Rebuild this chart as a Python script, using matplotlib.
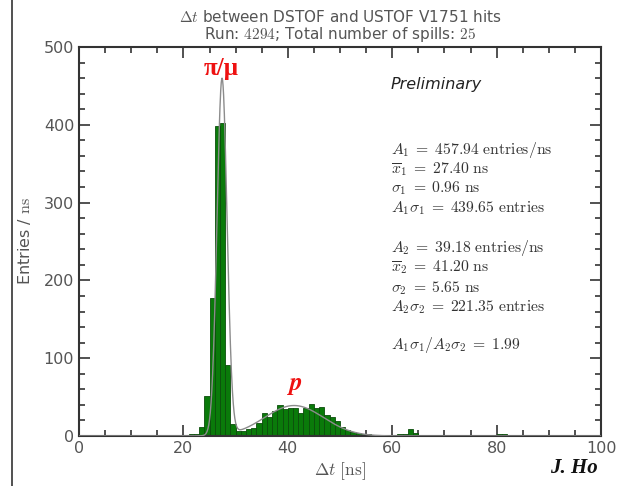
import numpy as np
import matplotlib
matplotlib.use("Agg")
import matplotlib.pyplot as plt
from matplotlib.ticker import MultipleLocator
from matplotlib.lines import Line2D

plt.rcParams['mathtext.fontset'] = 'cm'

# Histogram data (1 ns bins, left edges)
bin_left = [21, 22, 23, 24, 25, 26, 27, 28, 29, 30, 31, 32, 33, 34, 35, 36, 37, 38,
            39, 40, 41, 42, 43, 44, 45, 46, 47, 48, 49, 50, 51, 52, 53, 54, 55,
            60, 61, 62, 63, 64, 80, 81]
counts = [2, 2, 12, 52, 178, 398, 402, 91, 15, 7, 6, 9, 10, 17, 30, 25, 32, 40,
          35, 36, 36, 30, 36, 41, 36, 37, 27, 24, 19, 12, 8, 5, 4, 3, 2,
          1, 2, 3, 9, 4, 2, 2]
bin_width = 1.0

# Fit parameters shown in the chart
A1, mean1, sigma1 = 457.94, 27.40, 0.96
A2, mean2, sigma2 = 39.18, 41.20, 5.65

W, H = 617, 486
fig = plt.figure(figsize=(W / 100, H / 100), dpi=100)
ax = fig.add_axes([79 / W, 1 - 436 / H, (601 - 79) / W, (436 - 47) / H])

ax.bar(bin_left, counts, width=bin_width, align='edge', color='#0a7a0a',
       edgecolor='#0b4d0b', linewidth=0.6, zorder=2)

xf = np.linspace(0, 100, 2001)
yf = A1 * np.exp(-0.5 * ((xf - mean1) / sigma1) ** 2) + A2 * np.exp(-0.5 * ((xf - mean2) / sigma2) ** 2)
ax.plot(xf, yf, color='#8c8c8c', lw=1.0, zorder=3)

ax.set_xlim(0, 100)
ax.set_ylim(0, 500)
ax.xaxis.set_major_locator(MultipleLocator(20))
ax.xaxis.set_minor_locator(MultipleLocator(5))
ax.yaxis.set_major_locator(MultipleLocator(100))
ax.yaxis.set_minor_locator(MultipleLocator(20))
gray = '#555555'
ax.tick_params(which='both', direction='in', top=True, right=True, colors='#333333',
               labelcolor=gray, labelsize=11.5, width=1.2)
ax.tick_params(which='major', length=8)
ax.tick_params(which='minor', length=4)
for s in ax.spines.values():
    s.set_color('#333333')
    s.set_linewidth(1.5)

ax.set_xlabel(r'$\Delta t\ [\mathrm{ns}]$', fontsize=12.5, color=gray, labelpad=3)
ax.set_ylabel(r'Entries / $\mathrm{ns}$', fontsize=11.5, color=gray, labelpad=8)

fig.text(0.5 * (79 + 601) / W, 1 - 17 / H,
         r'$\Delta t$ between DSTOF and USTOF V1751 hits',
         ha='center', va='center', fontsize=11, color=gray)
fig.text(0.5 * (79 + 601) / W, 1 - 34 / H,
         r'Run: $4294$; Total number of spills: $25$',
         ha='center', va='center', fontsize=11, color=gray)

fig.text(391 / W, 1 - 85 / H, 'Preliminary', fontsize=11.5,
         style='italic', color='#222222', ha='left', va='center')

lines1 = [r'$A_1\;=\;457.94\ \mathrm{entries/ns}$',
          r'$\overline{x}_1\;=\;27.40\ \mathrm{ns}$',
          r'$\sigma_1\;=\;0.96\ \mathrm{ns}$',
          r'$A_1\sigma_1\;=\;439.65\ \mathrm{entries}$']
lines2 = [r'$A_2\;=\;39.18\ \mathrm{entries/ns}$',
          r'$\overline{x}_2\;=\;41.20\ \mathrm{ns}$',
          r'$\sigma_2\;=\;5.65\ \mathrm{ns}$',
          r'$A_2\sigma_2\;=\;221.35\ \mathrm{entries}$']
ys1 = [150, 169, 188, 208]
ys2 = [248, 267, 288, 307]
for t, yp in zip(lines1 + lines2 + [r'$A_1\sigma_1/A_2\sigma_2\;=\;1.99$'], ys1 + ys2 + [345]):
    fig.text(391 / W, 1 - yp / H, t, fontsize=11.3, color='#333333', ha='left', va='center')

ax.text(27.3, 473, 'π/μ', color='#ee1111', fontsize=18, family='Liberation Serif',
        weight='bold', ha='center', va='center')
ax.text(41.2, 65, r'$\boldsymbol{p}$', color='#ee1111', fontsize=18, ha='center', va='center')

fig.text(598 / W, 1 - 468 / H, 'J. Ho', fontsize=15, family='Liberation Serif',
         weight='bold', style='italic', ha='right', va='center', color='#111111')

fig.add_artist(Line2D([12 / W, 12 / W], [0, 1], transform=fig.transFigure,
                      color='#333333', lw=1.2))

fig.savefig('out.png', dpi=100)
